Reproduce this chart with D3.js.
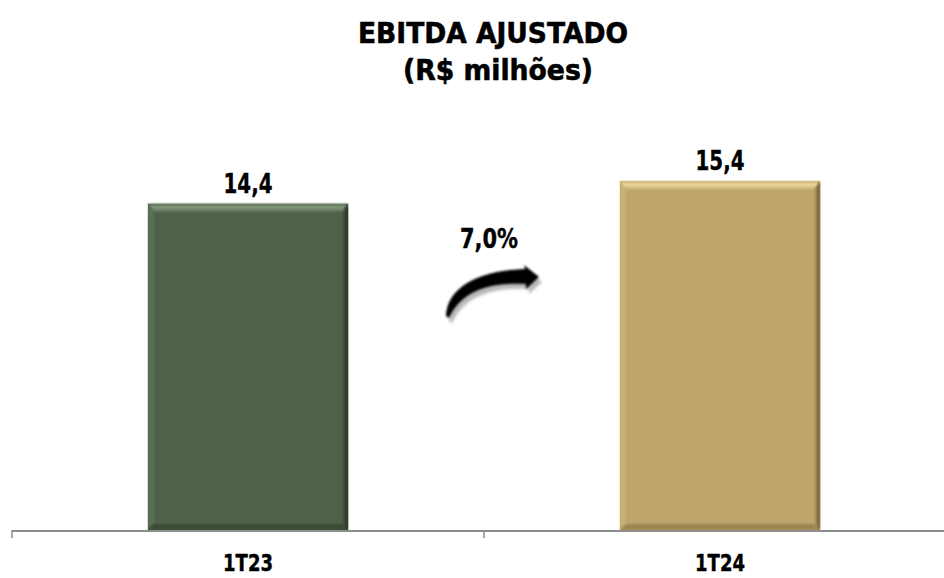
<!DOCTYPE html>
<html>
<head>
<meta charset="utf-8">
<script src="https://cdn.jsdelivr.net/npm/d3@7/dist/d3.min.js"></script>
<style>
  html, body { margin: 0; padding: 0; background: #fff; }
  svg { display: block; }
</style>
</head>
<body>
<svg id="chart" width="944" height="578"></svg>
<script>
// Adjusted EBITDA, quarterly comparison
const categories = ["1T23", "1T24"];
const values = [14.4, 15.4];
const valueLabels = ["14,4", "15,4"];
const growthLabel = "7,0%";
const titleLines = ["EBITDA AJUSTADO", "(R$ milhões)"];

const palettes = [
  { base: "#4f6149", light: "#849a7c", edge: "#62765b", dark: "#1d271b", low: "#3a4835" },
  { base: "#bea56c", light: "#f0dca0", edge: "#cdb57b", dark: "#5e4d25", low: "#9b854f" }
];

const W = 944, H = 578;
const baseY = 530;
const svg = d3.select("#chart");
const font = "'DejaVu Sans', 'Open Sans', sans-serif";

const x = d3.scaleBand().domain(categories).range([12, 956]).paddingInner(0).paddingOuter(0);
const barW = 200;
const y = d3.scaleLinear().domain([0, 16]).range([baseY, baseY - 16 * 22.65]);

const defs = svg.append("defs");
defs.append("filter").attr("id", "soft").attr("x", "-20%").attr("y", "-20%").attr("width", "140%").attr("height", "140%")
  .append("feGaussianBlur").attr("stdDeviation", 1.6);
defs.append("filter").attr("id", "edgeBlur")
  .append("feGaussianBlur").attr("stdDeviation", 0.8);

// Title
const title = svg.append("g").attr("font-family", font).attr("font-weight", "bold").attr("fill", "#000")
  .attr("text-anchor", "middle").attr("stroke", "#000").attr("stroke-width", 0.6);
title.append("text").attr("x", 493).attr("y", 43).attr("font-size", 28).attr("textLength", 270).attr("lengthAdjust", "spacingAndGlyphs").text(titleLines[0]);
title.append("text").attr("x", 498).attr("y", 80).attr("font-size", 28).attr("textLength", 190).attr("lengthAdjust", "spacingAndGlyphs").text(titleLines[1]);

// Bars with bevelled edges
const bars = svg.append("g");
categories.forEach((c, i) => {
  const p = palettes[i];
  const cx = x(c) + x.bandwidth() / 2;
  const x0 = cx - barW / 2, x1 = cx + barW / 2;
  const y0 = y(values[i]), y1 = y(0);
  const b = 9, s = 6;
  const g = bars.append("g");

  const gradId = "topGrad" + i;
  const lg = defs.append("linearGradient").attr("id", gradId).attr("x1", 0).attr("y1", 0).attr("x2", 0).attr("y2", 1);
  lg.append("stop").attr("offset", 0).attr("stop-color", p.edge);
  lg.append("stop").attr("offset", 0.4).attr("stop-color", p.light);
  lg.append("stop").attr("offset", 1).attr("stop-color", p.base);

  const rgId = "rightGrad" + i;
  const rg = defs.append("linearGradient").attr("id", rgId).attr("x1", 0).attr("y1", 0).attr("x2", 1).attr("y2", 0);
  rg.append("stop").attr("offset", 0).attr("stop-color", p.base);
  rg.append("stop").attr("offset", 1).attr("stop-color", p.dark);

  g.append("rect").attr("x", x0).attr("y", y0).attr("width", barW).attr("height", y1 - y0).attr("fill", p.base);
  // top bevel
  g.append("polygon").attr("points", [[x0, y0], [x1, y0], [x1 - s, y0 + b], [x0 + s, y0 + b]].join(" "))
    .attr("fill", `url(#${gradId})`).attr("filter", "url(#edgeBlur)");
  // left bevel
  g.append("polygon").attr("points", [[x0, y0], [x0 + s, y0 + b], [x0 + s, y1 - s], [x0, y1]].join(" "))
    .attr("fill", p.edge).attr("opacity", 0.7).attr("filter", "url(#edgeBlur)");
  // bottom bevel
  g.append("polygon").attr("points", [[x0, y1], [x0 + s, y1 - s], [x1 - s, y1 - s], [x1, y1]].join(" "))
    .attr("fill", p.low).attr("filter", "url(#edgeBlur)");
  // right bevel
  g.append("polygon").attr("points", [[x1, y0], [x1, y1], [x1 - s, y1 - s], [x1 - s, y0 + b]].join(" "))
    .attr("fill", `url(#${rgId})`).attr("filter", "url(#edgeBlur)");

  // value label
  svg.append("text").attr("x", cx).attr("y", y0 - 11).attr("text-anchor", "middle")
    .attr("font-family", font).attr("font-weight", "bold").attr("font-size", 27)
    .attr("stroke", "#000").attr("stroke-width", 0.4)
    .attr("textLength", 49).attr("lengthAdjust", "spacingAndGlyphs").text(valueLabels[i]);
});

// Category axis
const axis = svg.append("g");
axis.append("line").attr("x1", 12).attr("x2", W).attr("y1", baseY + 1).attr("y2", baseY + 1)
  .attr("stroke", "#8c8c8c").attr("stroke-width", 2);
categories.forEach(c => {
  const tx = x(c);
  axis.append("line").attr("x1", tx).attr("x2", tx).attr("y1", baseY).attr("y2", baseY + 8)
    .attr("stroke", "#8c8c8c").attr("stroke-width", 1.5);
});
const labelAxis = d3.axisBottom(x).tickSize(0).tickPadding(0);
const la = svg.append("g").attr("transform", `translate(0, ${baseY})`).call(labelAxis);
la.select(".domain").remove();
la.selectAll("text").attr("font-family", "'DejaVu Sans Condensed', 'Liberation Sans Narrow', sans-serif")
  .attr("font-weight", "bold").attr("font-size", 23).attr("fill", "#000")
  .attr("stroke", "#000").attr("stroke-width", 0.4)
  .attr("dy", 0).attr("y", 41).attr("textLength", 50).attr("lengthAdjust", "spacingAndGlyphs");

// Growth arrow and label
const arrowPath = "M446,316 C447,292 470,271 525,269 L524,265 L539,277 L526,289 L526,284 C485,282 461,293 449,318 Z";
svg.append("path").attr("d", arrowPath).attr("fill", "#9a9a9a").attr("opacity", 0.7)
  .attr("transform", "translate(3,5)").attr("filter", "url(#soft)");
svg.append("path").attr("d", arrowPath).attr("fill", "#000").attr("filter", "url(#edgeBlur)");
svg.append("text").attr("x", 489).attr("y", 248).attr("text-anchor", "middle")
  .attr("font-family", font).attr("font-weight", "bold").attr("font-size", 27)
  .attr("stroke", "#000").attr("stroke-width", 0.4)
  .attr("textLength", 58).attr("lengthAdjust", "spacingAndGlyphs").text(growthLabel);
</script>
</body>
</html>
